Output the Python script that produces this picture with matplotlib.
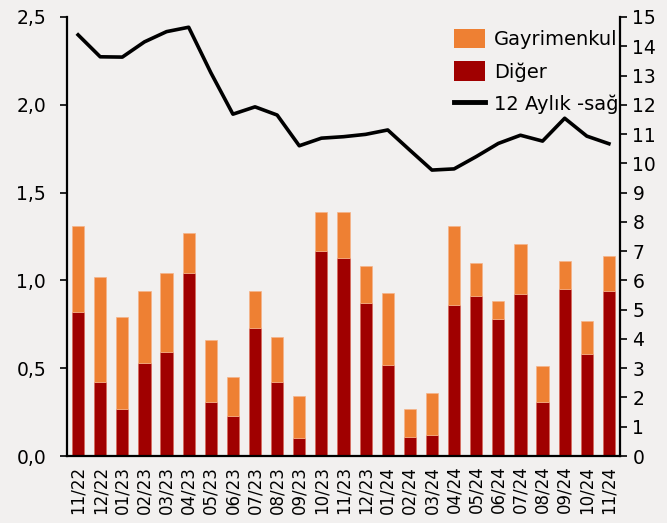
import matplotlib
matplotlib.use("Agg")
import matplotlib.pyplot as plt
from matplotlib.lines import Line2D
from matplotlib.patches import Patch
from matplotlib.ticker import FuncFormatter, MultipleLocator
import numpy as np

months = ["11/22", "12/22", "01/23", "02/23", "03/23", "04/23", "05/23", "06/23",
          "07/23", "08/23", "09/23", "10/23", "11/23", "12/23", "01/24", "02/24",
          "03/24", "04/24", "05/24", "06/24", "07/24", "08/24", "09/24", "10/24", "11/24"]
diger = [0.82, 0.42, 0.27, 0.53, 0.59, 1.04, 0.31, 0.23, 0.73, 0.42, 0.10, 1.17, 1.13,
         0.87, 0.52, 0.11, 0.12, 0.86, 0.91, 0.78, 0.92, 0.31, 0.95, 0.58, 0.94]
toplam = [1.31, 1.02, 0.79, 0.94, 1.04, 1.27, 0.66, 0.45, 0.94, 0.68, 0.34, 1.39, 1.39,
          1.08, 0.93, 0.27, 0.36, 1.31, 1.10, 0.88, 1.21, 0.51, 1.11, 0.77, 1.14]
yillik = [14.39, 13.64, 13.63, 14.15, 14.50, 14.65, 13.10, 11.68, 11.93, 11.65, 10.60,
          10.86, 10.91, 10.99, 11.14, 10.45, 9.77, 9.81, 10.23, 10.68, 10.96, 10.76,
          11.54, 10.93, 10.67]

gayrimenkul = [t - d for t, d in zip(toplam, diger)]

BG = "#F2F0EF"
ORANGE = "#EE8033"
DARKRED = "#A00000"

plt.rcParams["font.family"] = "DejaVu Sans"
fig = plt.figure(figsize=(6.67, 5.23), dpi=100, facecolor=BG)
ax = fig.add_axes([0.1005, 0.1281, 0.829, 0.8394])
ax.set_facecolor(BG)

x = np.arange(len(months))
ax.bar(x, diger, width=0.55, color=DARKRED, edgecolor="#D86A5A", linewidth=0.5, zorder=2)
ax.bar(x, gayrimenkul, width=0.55, bottom=diger, color=ORANGE, edgecolor="#F6B48A",
       linewidth=0.5, zorder=2)
ax.set_xlim(-0.5, len(months) - 0.5)
ax.set_ylim(0, 2.5)
ax.yaxis.set_major_locator(MultipleLocator(0.5))
ax.yaxis.set_major_formatter(FuncFormatter(lambda v, _: f"{v:.1f}".replace(".", ",")))
ax.set_xticks(x)
ax.set_xticklabels(months, rotation=90, fontsize=12)
ax.tick_params(axis="x", length=0, pad=7)
ax.tick_params(axis="y", labelsize=13.5, length=5, width=1.2, direction="out", pad=10)
for side in ["top", "right"]:
    ax.spines[side].set_visible(False)
for side in ["left", "bottom"]:
    ax.spines[side].set_linewidth(1.6)

ax2 = ax.twinx()
ax2.plot(x, yillik, color="black", linewidth=2.6, zorder=3)
ax2.set_ylim(0, 15)
ax2.yaxis.set_major_locator(MultipleLocator(1))
ax2.tick_params(axis="y", labelsize=13.5, length=5, width=1.2, direction="out", pad=4)
for side in ["top", "left", "bottom"]:
    ax2.spines[side].set_visible(False)
ax2.spines["right"].set_linewidth(1.6)

handles = [
    Patch(facecolor=ORANGE, edgecolor="none", label="Gayrimenkul"),
    Patch(facecolor=DARKRED, edgecolor="none", label="Diğer"),
    Line2D([0], [0], color="black", linewidth=3.5, label="12 Aylık -sağ"),
]
ax2.legend(handles=handles, loc="upper right", bbox_to_anchor=(1.012, 0.99),
           frameon=False, fontsize=14, handlelength=1.6, handleheight=1.15,
           handletextpad=0.5, labelspacing=0.62, borderaxespad=0.0)

fig.savefig("out.png", dpi=100, facecolor=BG)
